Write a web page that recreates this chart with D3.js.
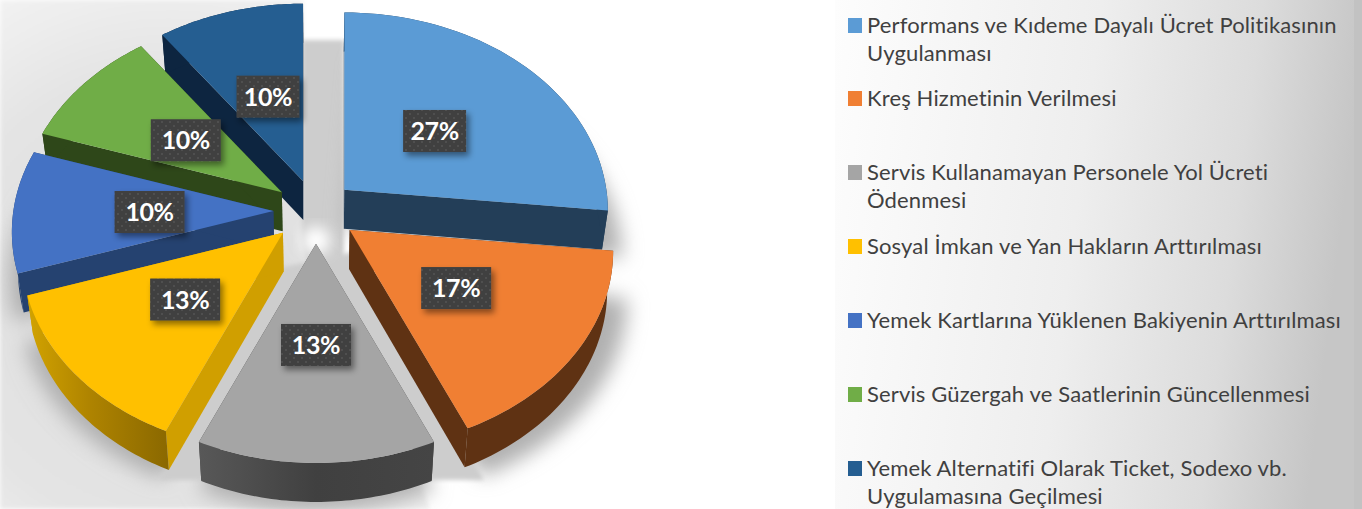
<!DOCTYPE html>
<html><head><meta charset="utf-8">
<script src="https://cdn.jsdelivr.net/npm/d3@7/dist/d3.min.js"></script>
<style>html,body{margin:0;padding:0;background:#fff;overflow:hidden}svg{display:block}</style>
</head><body><svg id="c" width="1362" height="509"></svg>
<script>
const categories = [
  ["Performans ve Kıdeme Dayalı Ücret Politikasının","Uygulanması"],
  ["Kreş Hizmetinin Verilmesi"],
  ["Servis Kullanamayan Personele Yol Ücreti","Ödenmesi"],
  ["Sosyal İmkan ve Yan Hakların Arttırılması"],
  ["Yemek Kartlarına Yüklenen Bakiyenin Arttırılması"],
  ["Servis Güzergah ve Saatlerinin Güncellenmesi"],
  ["Yemek Alternatifi Olarak Ticket, Sodexo vb.","Uygulamasına Geçilmesi"]
];
const values = [8,5,4,4,3,3,3];
const topColors  = ["#5b9bd5","#f07f33","#a5a5a5","#ffc000","#4472c4","#70ad47","#255e91"];
const wallColors = ["#233e58","#5f3213","#434343","#d09f00","#254270","#2e4719","#0d2540"];
const outerFill  = ["#233e58","#5f3213","url(#gw)","url(#yw)","#254270","#2e4719","#0d2540"];

const W=1362,H=509,cx=316,cy=211,Ay=196,k=0.106,explode=0.164,depth=39,shrink=0.98;
const svg=d3.select("#c");
const defs=svg.append("defs");

const xS=d3.scaleLinear().domain([-1,0,1]).range([-260,0,262]);
const yS=d3.scaleLinear().domain([-1,1]).range([Ay,-Ay]);
const persp=Y=>1/(1+k*Y);
const proj=(a,r=1)=>{const X=r*Math.sin(a),Y=r*Math.cos(a),w=persp(Y);return [xS(X)*w,yS(Y)*w];};

const apexNudge=[-1,1,0,-1,0,0,0];
const arcs=d3.pie().sort(null).value(d=>d)(values).map((d,i)=>{
  const mid=(d.startAngle+d.endAngle)/2;
  const p=proj(mid,explode);
  const ex=p[0]>0?p[0]*0.93:p[0];
  return {...d,i,mid,ax:cx+ex+apexNudge[i],ay:cy+p[1]};
});
const total=d3.sum(values);
const pct=d3.format(".0%");
const line=d3.line();
const rimPts=(d)=>{
  const n=48;
  return d3.range(n+1).map(t=>{const a=d.startAngle+(d.endAngle-d.startAngle)*t/n,p=proj(a);return [d.ax+p[0],d.ay+p[1]];});
};
const down=p=>[cx+(p[0]-cx)*shrink,p[1]+depth];

function linGrad(id,x2,y2,stops){
  const g=defs.append("linearGradient").attr("id",id).attr("x1",0).attr("y1",0).attr("x2",x2).attr("y2",y2);
  stops.forEach(s=>g.append("stop").attr("offset",s[0]).attr("stop-color",s[1]));
}
linGrad("bg",1,0.12,[[0,"#fdfdfd"],[0.5,"#eeeeee"],[0.8,"#dcdcdc"],[1,"#c6c6c6"]]);
linGrad("yw",1,0,[[0,"#d2a300"],[0.45,"#ae8300"],[1,"#8a6800"]]);
linGrad("gw",1,0,[[0,"#585858"],[0.5,"#404040"],[1,"#454545"]]);
function blur(id,s){defs.append("filter").attr("id",id).attr("x","-30%").attr("y","-30%").attr("width","160%").attr("height","160%")
  .append("feGaussianBlur").attr("stdDeviation",s);}
blur("blurL",10);blur("blurS",2);blur("blurG",7);
const ds=defs.append("filter").attr("id","ds").attr("x","-30%").attr("y","-30%").attr("width","170%").attr("height","170%");
ds.append("feDropShadow").attr("dx",3).attr("dy",4).attr("stdDeviation",3).attr("flood-color","#000").attr("flood-opacity",0.45);
const pat=defs.append("pattern").attr("id","dots").attr("width",8).attr("height",8).attr("patternUnits","userSpaceOnUse");
pat.append("rect").attr("width",8).attr("height",8).attr("fill","#404040");
pat.append("rect").attr("x",1).attr("y",1).attr("width",2).attr("height",2).attr("fill","#505050");
pat.append("rect").attr("x",5).attr("y",5).attr("width",2).attr("height",2).attr("fill","#505050");

const tl=defs.append("radialGradient").attr("id","tl").attr("gradientUnits","userSpaceOnUse")
  .attr("cx",170).attr("cy",300).attr("r",420);
[[0,"#dcdcdc"],[0.55,"#e4e4e4"],[0.8,"#f1f1f1"],[1,"#ffffff"]].forEach(s=>tl.append("stop").attr("offset",s[0]).attr("stop-color",s[1]));

// legend panel
svg.append("rect").attr("x",835).attr("y",0).attr("width",527).attr("height",H).attr("fill","url(#bg)");
svg.append("rect").attr("x",1354).attr("y",0).attr("width",8).attr("height",H).attr("fill","#c2c2c2");

// pie backdrop
const back=svg.append("g");
back.append("path").attr("d",line([[0,0],[303,0],[303,40],[330,240],[430,509],[0,509]])+"Z").attr("fill","url(#tl)").attr("filter","url(#blurS)");
back.append("path").attr("d",line([[302,40],[344,40],[344,300],[316,300],[302,240]])+"Z").attr("fill","#cdcdcd").attr("filter","url(#blurS)");
const shadowG=back.append("g").attr("filter","url(#blurL)");
[0,1,2,3,4].forEach(i=>{
  const d=arcs[i];
  const rim=rimPts(d).map(p=>[p[0]+(i<2?14:i===2?0:-3),p[1]+depth+9]);
  shadowG.append("path").attr("d",line([[d.ax,d.ay+depth],...rim])+"Z").attr("fill","#b0b0b0");
});
// floor colour in the gaps between the slices and a glow at the grey tip
back.append("path").attr("d",line([[270,270],[362,250],[484,480],[160,480]])+"Z").attr("fill","#cdcdcd").attr("filter","url(#blurS)");
back.append("circle").attr("cx",arcs[2].ax).attr("cy",arcs[2].ay-3).attr("r",14).attr("fill","#fff").attr("filter","url(#blurG)");

// painter order: back to front
const order=[6,5,4,3,0,1,2];
const g=svg.append("g");
order.forEach(i=>{
  const d=arcs[i],rim=rimPts(d),ap=[d.ax,d.ay],apB=down(ap);
  const s=rim[0],e=rim[rim.length-1];
  g.append("path").attr("d",line([ap,s,down(s),apB])+"Z").attr("fill",wallColors[i]);
  g.append("path").attr("d",line([ap,e,down(e),apB])+"Z").attr("fill",wallColors[i]);
  const bottom=rim.map(down).reverse();
  g.append("path").attr("d",line([...rim,...bottom])+"Z").attr("fill",outerFill[i]);
  g.append("path").attr("d",line([ap,...rim])+"Z").attr("fill",topColors[i]);
});

// data labels
const labelW=[63,70,70,70,70,70,63];
const labelShift=[[3,0],[-2,-1],[0,-4],[2,-1],[1,1],[-1,0],[0,-3]];
arcs.forEach(d=>{
  const p=proj(d.mid),s=labelShift[d.i],lx=d.ax+p[0]*0.48+s[0],ly=d.ay+p[1]*0.48+s[1],w=labelW[d.i];
  svg.append("rect").attr("x",lx-w/2).attr("y",ly-21).attr("width",w).attr("height",42)
    .attr("fill","url(#dots)").attr("filter","url(#ds)");
  svg.append("text").attr("x",lx).attr("y",ly+9).attr("text-anchor","middle")
    .attr("font-family","Lato, 'Open Sans', sans-serif").attr("font-weight",700).attr("font-size",25).attr("letter-spacing","-0.4")
    .attr("fill","#fff").text(pct(d.value/total));
});

// legend
const rowY=[25,98,172,246,320,394,468];
const lineH=28.5;
categories.forEach((lines,i)=>{
  svg.append("rect").attr("x",848).attr("y",rowY[i]-7).attr("width",14).attr("height",15).attr("fill",topColors[i]);
  lines.forEach((t,j)=>{
    svg.append("text").attr("x",867).attr("y",rowY[i]+7.5+j*lineH)
      .attr("font-family","Lato, sans-serif").attr("font-size",22).attr("fill","#404040").attr("letter-spacing","0.14").text(t);
  });
});
</script></body></html>
